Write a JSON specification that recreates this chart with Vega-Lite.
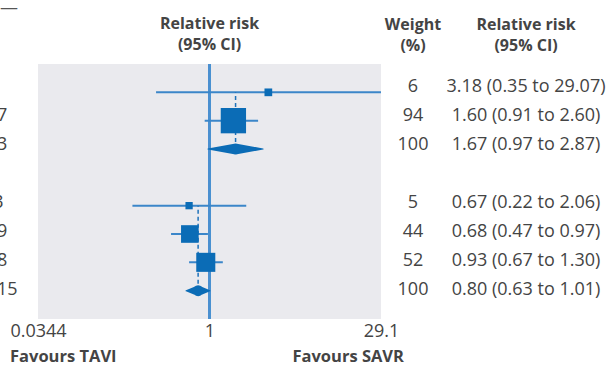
{
  "$schema": "https://vega.github.io/schema/vega-lite/v6.json",
  "padding": {"left": 0, "top": 0, "right": 0, "bottom": 0},
  "bounds": "flush",
  "spacing": 0,
  "config": {
    "font": "Open Sans",
    "view": {"stroke": null},
    "title": {"font": "Open Sans", "fontSize": 16, "fontWeight": "bold", "color": "#444444", "lineHeight": 21, "offset": 10, "anchor": "middle"},
    "text": {"font": "Open Sans", "fontSize": 18, "color": "#444444"},
    "axisX": {"domain": false, "ticks": false, "tickSize": 0, "grid": false, "labelFlush": false, "labelOverlap": false, "labelFont": "Open Sans", "labelFontSize": 18, "labelColor": "#444444", "labelPadding": 3}
  },
  "datasets": {
    "rows": [
      {"row": 1, "grp": "A", "type": "study", "est": 3.18, "lo": 0.35, "hi": 29.07, "weight": 6, "wt": "6", "rr": "3.18 (0.35 to 29.07)", "left": "312"},
      {"row": 2, "grp": "A", "type": "study", "est": 1.60, "lo": 0.91, "hi": 2.60, "weight": 94, "wt": "94", "rr": "1.60 (0.91 to 2.60)", "left": "1227"},
      {"row": 3, "grp": "A", "type": "summary", "est": 1.67, "lo": 0.97, "hi": 2.87, "weight": 100, "wt": "100", "rr": "1.67 (0.97 to 2.87)", "left": "1223"},
      {"row": 5, "grp": "B", "type": "study", "est": 0.67, "lo": 0.22, "hi": 2.06, "weight": 5, "wt": "5", "rr": "0.67 (0.22 to 2.06)", "left": "13/3"},
      {"row": 6, "grp": "B", "type": "study", "est": 0.68, "lo": 0.47, "hi": 0.97, "weight": 44, "wt": "44", "rr": "0.68 (0.47 to 0.97)", "left": "1229"},
      {"row": 7, "grp": "B", "type": "study", "est": 0.93, "lo": 0.67, "hi": 1.30, "weight": 52, "wt": "52", "rr": "0.93 (0.67 to 1.30)", "left": "1228"},
      {"row": 8, "grp": "B", "type": "summary", "est": 0.80, "lo": 0.63, "hi": 1.01, "weight": 100, "wt": "100", "rr": "0.80 (0.63 to 1.01)", "left": "12215"}
    ],
    "footer": [
      {"label": "Favours TAVI", "at": 0.0344},
      {"label": "Favours SAVR", "at": 29.1}
    ]
  },
  "hconcat": [
    {
      "width": 38,
      "height": 255,
      "data": {"name": "rows"},
      "title": {"text": "—", "anchor": "start", "fontWeight": "normal", "fontSize": 18, "color": "#555555", "baseline": "alphabetic", "offset": 32},
      "mark": {"type": "text", "align": "left", "baseline": "middle", "dx": -53, "clip": true},
      "encoding": {
        "y": {"field": "row", "type": "quantitative", "scale": {"domain": [0.2, 9], "reverse": true}, "axis": null},
        "text": {"field": "left"}
      }
    },
    {
      "width": 343,
      "height": 255,
      "view": {"fill": "#eaeaee", "stroke": null},
      "title": {"text": ["Relative risk", "(95% CI)"]},
      "data": {"name": "rows"},
      "layer": [
        {
          "mark": {"type": "rule", "color": "#4a90d0", "strokeWidth": 2},
          "encoding": {
            "x": {"datum": 1, "type": "quantitative", "scale": {"type": "log", "domain": [0.0344, 29.1], "nice": false}, "axis": {"title": null, "values": [0.0344, 1, 29.1], "format": "~g"}}
          }
        },
        {
          "transform": [{"filter": "datum.type === 'study'"}],
          "mark": {"type": "rule", "color": "#3b86c9", "strokeWidth": 2},
          "encoding": {
            "x": {"field": "lo", "type": "quantitative", "axis": {"title": null}},
            "x2": {"field": "hi"},
            "y": {"field": "row", "type": "quantitative", "scale": {"domain": [0.2, 9], "reverse": true}, "axis": null}
          }
        },
        {
          "transform": [
            {"joinaggregate": [{"op": "min", "field": "row", "as": "top"}], "groupby": ["grp"]},
            {"filter": "datum.type === 'summary'"}
          ],
          "mark": {"type": "rule", "color": "#1f72ba", "strokeWidth": 1.5, "strokeDash": [4, 3]},
          "encoding": {
            "x": {"field": "est", "type": "quantitative", "axis": {"title": null}},
            "y": {"field": "row", "type": "quantitative", "axis": null},
            "y2": {"field": "top"}
          }
        },
        {
          "transform": [{"filter": "datum.type === 'study'"}],
          "mark": {"type": "square", "color": "#0b6cb6", "opacity": 1},
          "encoding": {
            "x": {"field": "est", "type": "quantitative", "axis": {"title": null}},
            "y": {"field": "row", "type": "quantitative", "axis": null},
            "size": {"field": "weight", "type": "quantitative", "scale": {"domain": [0, 100], "range": [20, 680]}, "legend": null}
          }
        },
        {
          "transform": [
            {"filter": "datum.type === 'summary'"},
            {"fold": ["lo", "est", "hi"], "as": ["key", "value"]}
          ],
          "mark": {"type": "trail", "color": "#0b6cb6"},
          "encoding": {
            "x": {"field": "value", "type": "quantitative", "axis": {"title": null}},
            "y": {"field": "row", "type": "quantitative", "axis": null},
            "detail": {"field": "grp"},
            "order": {"field": "value", "type": "quantitative"},
            "size": {"field": "key", "type": "ordinal", "scale": {"type": "ordinal", "domain": ["lo", "est", "hi"], "range": [0, 11, 0]}, "legend": null}
          }
        },
        {
          "data": {"name": "footer"},
          "transform": [{"filter": "datum.label === 'Favours TAVI'"}],
          "mark": {"type": "text", "align": "left", "baseline": "alphabetic", "fontWeight": "bold", "fontSize": 16.5, "dx": -28, "dy": 170},
          "encoding": {
            "x": {"field": "at", "type": "quantitative", "axis": {"title": null}},
            "text": {"field": "label"}
          }
        },
        {
          "data": {"name": "footer"},
          "transform": [{"filter": "datum.label === 'Favours SAVR'"}],
          "mark": {"type": "text", "align": "right", "baseline": "alphabetic", "fontWeight": "bold", "fontSize": 16.5, "dx": 23, "dy": 170},
          "encoding": {
            "x": {"field": "at", "type": "quantitative", "axis": {"title": null}},
            "text": {"field": "label"}
          }
        }
      ]
    },
    {
      "width": 64,
      "height": 255,
      "data": {"name": "rows"},
      "title": {"text": ["Weight", "(%)"]},
      "mark": {"type": "text", "baseline": "middle"},
      "encoding": {
        "y": {"field": "row", "type": "quantitative", "scale": {"domain": [0.2, 9], "reverse": true}, "axis": null},
        "text": {"field": "wt"}
      }
    },
    {
      "width": 162,
      "height": 255,
      "data": {"name": "rows"},
      "title": {"text": ["Relative risk", "(95% CI)"]},
      "mark": {"type": "text", "baseline": "middle"},
      "encoding": {
        "y": {"field": "row", "type": "quantitative", "scale": {"domain": [0.2, 9], "reverse": true}, "axis": null},
        "text": {"field": "rr"}
      }
    }
  ]
}
